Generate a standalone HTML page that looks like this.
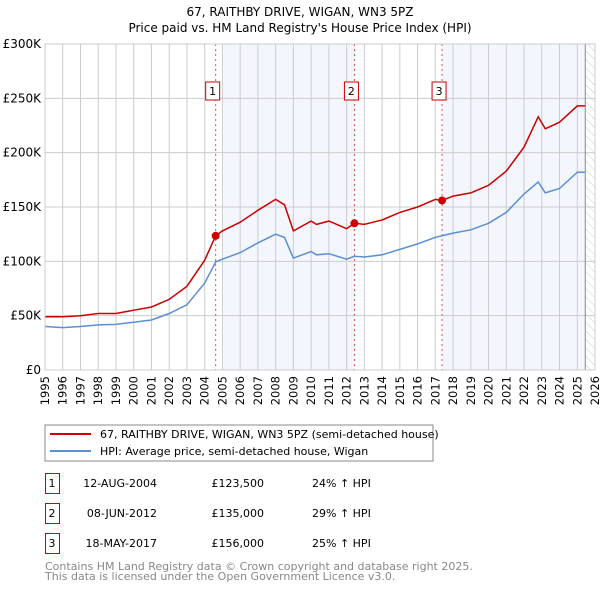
<!DOCTYPE html>
<html><head><meta charset="utf-8"><style>
body{margin:0;background:#fff;width:600px;height:590px;overflow:hidden;font-family:"DejaVu Sans","Liberation Sans",sans-serif;}
svg{display:block}
</style></head><body>
<svg id="c" width="600" height="590" xmlns="http://www.w3.org/2000/svg">
<text x="300" y="16" text-anchor="middle" font-size="12">67, RAITHBY DRIVE, WIGAN, WN3 5PZ</text>
<text x="300" y="32" text-anchor="middle" font-size="12">Price paid vs. HM Land Registry's House Price Index (HPI)</text>
<g id="plot"></g>
<rect x="45" y="425" width="388" height="36" fill="#fff" stroke="#888"/>
<line x1="50" y1="434" x2="91" y2="434" stroke="#cc0000" stroke-width="2"/>
<text x="100" y="438" font-size="11">67, RAITHBY DRIVE, WIGAN, WN3 5PZ (semi-detached house)</text>
<line x1="50" y1="451" x2="91" y2="451" stroke="#5b8fd4" stroke-width="2"/>
<text x="100" y="455" font-size="11">HPI: Average price, semi-detached house, Wigan</text>
<g font-size="11" id="tbl"></g>
<text x="45" y="570" font-size="11" fill="#888">Contains HM Land Registry data © Crown copyright and database right 2025.</text>
<text x="45" y="580" font-size="11" fill="#888">This data is licensed under the Open Government Licence v3.0.</text>
</svg>
<script>
const hpiYears=[1995,1996,1997,1998,1999,2000,2001,2002,2003,2004,2004.62,2005,2006,2007,2008,2008.5,2009,2010,2010.3,2011,2012,2012.44,2013,2014,2015,2016,2017,2018,2019,2020,2021,2022,2022.8,2023.2,2024,2025,2025.45];
const hpiValues=[40,39,40,41.5,42,44,46,52,60,80,99.5,102,108,117,125,122,103,109,106,107,102,104.6,104,106,111,116,122,126,129,135,145,162,173,163,167,182,182];
const redYears=[1995,1996,1997,1998,1999,2000,2001,2002,2003,2004,2004.62,2005,2006,2007,2008,2008.5,2009,2010,2010.3,2011,2012,2012.44,2013,2014,2015,2016,2017,2017.38,2018,2019,2020,2021,2022,2022.8,2023.2,2024,2025,2025.45];
const redValues=[49,49,50,52,52,55,58,65,77,101,123.5,128,136,147,157,152,128,137,134,137,130,135,134,138,145,150,157,156,160,163,170,183,205,233,222,228,243,243];
const saleYears=[2004.62,2012.44,2017.38];
const saleValues=[123.5,135,156];
const saleLabels=["1","2","3"];
const saleDates=["12-AUG-2004","08-JUN-2012","18-MAY-2017"];
const salePrices=["£123,500","£135,000","£156,000"];
const salePct=["24% ↑ HPI","29% ↑ HPI","25% ↑ HPI"];
const yTicks=[0,50,100,150,200,250,300];
const yTickLabels=["£0","£50K","£100K","£150K","£200K","£250K","£300K"];
const xTicks=[];for(let y=1995;y<=2026;y++)xTicks.push(y);

const X0=45,X1=595,Y0=370,Y1=44;
const sx=y=>X0+(y-1995)/(2026-1995)*(X1-X0);
const sy=v=>Y0-v/300*(Y0-Y1);
const NS="http://www.w3.org/2000/svg";
const g=document.getElementById('plot');
function mk(t,a,p){const e=document.createElementNS(NS,t);for(const k in a)e.setAttribute(k,a[k]);(p||g).appendChild(e);return e;}

let e=mk('rect',{x:sx(2005),y:Y1,width:sx(2012.44)-sx(2005),height:Y0-Y1,fill:'#f3f6fd'});


e=mk('rect',{x:sx(2017.38),y:Y1,width:sx(2025.45)-sx(2017.38),height:Y0-Y1,fill:'#f3f6fd'});


const defs=mk('defs',{});
const pat=mk('pattern',{id:'h',width:6,height:6,patternUnits:'userSpaceOnUse',patternTransform:'rotate(-45)'},defs);
mk('line',{x1:0,y1:0,x2:0,y2:6,stroke:'#ccc','stroke-width':1},pat);
e=mk('rect',{x:sx(2025.45),y:Y1,width:X1-sx(2025.45),height:Y0-Y1,fill:'url(#h)'});



xTicks.forEach(y=>{
  const l=mk('line',{x1:sx(y),y1:Y1,x2:sx(y),y2:Y0,stroke:'#ccc','stroke-width':1});
  
  
  const t=mk('text',{x:0,y:0,'font-size':11.5,'text-anchor':'end',transform:`translate(${sx(y)+4},${Y0+6}) rotate(-90)`});
  t.textContent=y;
  
  
});
yTicks.forEach((v,i)=>{
  const l=mk('line',{x1:X0,y1:sy(v),x2:X1,y2:sy(v),stroke:'#ccc','stroke-width':1});
  
  
  const t=mk('text',{x:X0-4,y:sy(v)+4,'font-size':12,'text-anchor':'end'});
  t.textContent=yTickLabels[i];
  
  
});
e=mk('line',{x1:sx(2025.45),y1:Y1,x2:sx(2025.45),y2:Y0,stroke:'#888','stroke-width':1});



saleYears.forEach((y,i)=>{
  const l=mk('line',{x1:sx(y),y1:Y1,x2:sx(y),y2:Y0,stroke:'#e05050','stroke-width':1,'stroke-dasharray':'2,3'});
  
  
});
const path=(xs,vs)=>xs.map((y,i)=>(i?'L':'M')+sx(y).toFixed(1)+','+sy(vs[i]).toFixed(1)).join('');
e=mk('path',{d:path(hpiYears,hpiValues),fill:'none',stroke:'#5b8fd4','stroke-width':1.5});


e=mk('path',{d:path(redYears,redValues),fill:'none',stroke:'#cc0000','stroke-width':1.5});


saleYears.forEach((y,i)=>{
  const c=mk('circle',{cx:sx(y),cy:sy(saleValues[i]),r:4,fill:'#cc0000'});
  
  
  const bx=sx(y)-10;
  const r=mk('rect',{x:bx,y:82,width:14,height:18,fill:'#fff',stroke:'#cc0000'});
  
  
  const t=mk('text',{x:bx+7,y:95,'font-size':11,'text-anchor':'middle'});
  t.textContent=saleLabels[i];
  
  
});
e=mk('rect',{x:X0,y:Y1,width:X1-X0,height:Y0-Y1,fill:'none',stroke:'#ccc'});



const tb=document.getElementById('tbl');
saleLabels.forEach((s,i)=>{
  const cy=483+i*30;
  const r=mk('rect',{x:45.5,y:cy-9.5,width:14,height:20,fill:'#fff',stroke:'#cc0000'},tb);
  
  
  const vals=[[52,s,'middle'],[157,saleDates[i],'end'],[264,salePrices[i],'end'],[312,salePct[i],'start']];
  vals.forEach(v=>{
    const t=mk('text',{x:v[0],y:cy+4,'text-anchor':v[2]},tb);
    t.textContent=v[1];
    
    
  });
});
</script>
</body></html>
